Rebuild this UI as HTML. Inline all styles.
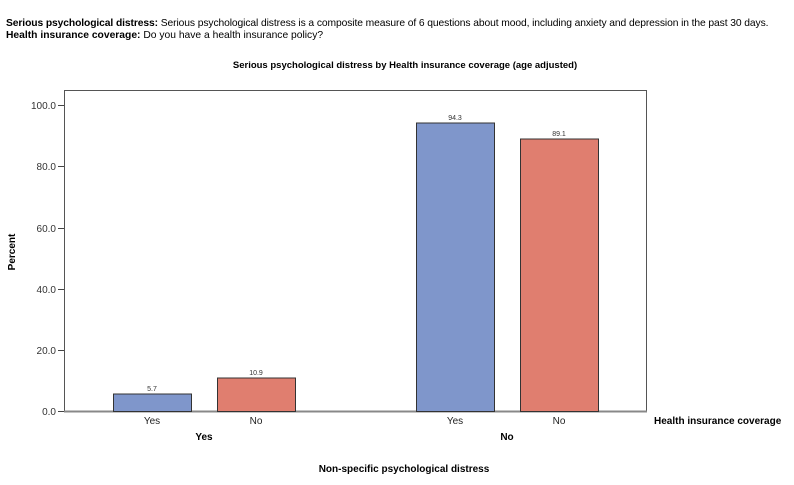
<!DOCTYPE html>
<html><head><style>
body{margin:0;background:#fff;width:794px;height:485px;overflow:hidden;font-family:"Liberation Sans",Arial,sans-serif}
.hd{position:absolute;left:6px;font-size:10.3px;color:#000;white-space:nowrap}
</style></head><body>
<div class="hd" style="top:18px;letter-spacing:-0.1px"><b>Serious psychological distress:</b> Serious psychological distress is a composite measure of 6 questions about mood, including anxiety and depression in the past 30 days.</div>
<div class="hd" style="top:30px"><b>Health insurance coverage:</b> Do you have a health insurance policy?</div>
<svg width="794" height="485" style="position:absolute;left:0;top:0" font-family="Liberation Sans, Arial, sans-serif">
<text x="405" y="68" font-size="9.5" font-weight="bold" text-anchor="middle">Serious psychological distress by Health insurance coverage (age adjusted)</text>
<rect x="64.5" y="90.5" width="582" height="321" fill="none" stroke="#555" stroke-width="1"/>
<line x1="64" y1="411.5" x2="647" y2="411.5" stroke="#888" stroke-width="2"/>
<g stroke="#444">
<line x1="58" y1="105.5" x2="64" y2="105.5"/><line x1="58" y1="166.5" x2="64" y2="166.5"/>
<line x1="58" y1="228.5" x2="64" y2="228.5"/><line x1="58" y1="289.5" x2="64" y2="289.5"/>
<line x1="58" y1="350.5" x2="64" y2="350.5"/><line x1="58" y1="411.5" x2="64" y2="411.5"/>
</g>
<g font-size="10" fill="#333" text-anchor="end">
<text x="56" y="109">100.0</text><text x="56" y="170">80.0</text><text x="56" y="232">60.0</text>
<text x="56" y="293">40.0</text><text x="56" y="354">20.0</text><text x="56" y="415">0.0</text>
</g>
<text transform="translate(15,252) rotate(-90)" font-size="10" font-weight="bold" text-anchor="middle">Percent</text>
<g stroke="#333" stroke-width="1">
<rect x="113.5" y="394" width="78" height="17.5" fill="#7f96cb"/>
<rect x="217.5" y="378" width="78" height="33.5" fill="#e07e6f"/>
<rect x="416.5" y="123" width="78" height="288.5" fill="#7f96cb"/>
<rect x="520.5" y="139" width="78" height="272.5" fill="#e07e6f"/>
</g>
<g font-size="7" fill="#333" text-anchor="middle">
<text x="152" y="391">5.7</text><text x="256" y="375">10.9</text>
<text x="455" y="120">94.3</text><text x="559" y="136">89.1</text>
</g>
<g font-size="10" fill="#222" text-anchor="middle">
<text x="152" y="424">Yes</text><text x="256" y="424">No</text>
<text x="455" y="424">Yes</text><text x="559" y="424">No</text>
</g>
<g font-size="10" font-weight="bold" text-anchor="middle">
<text x="204" y="440">Yes</text><text x="507" y="440">No</text>
<text x="404" y="472">Non-specific psychological distress</text>
</g>
<text x="654" y="424" font-size="10" font-weight="bold">Health insurance coverage</text>
</svg>
</body></html>
